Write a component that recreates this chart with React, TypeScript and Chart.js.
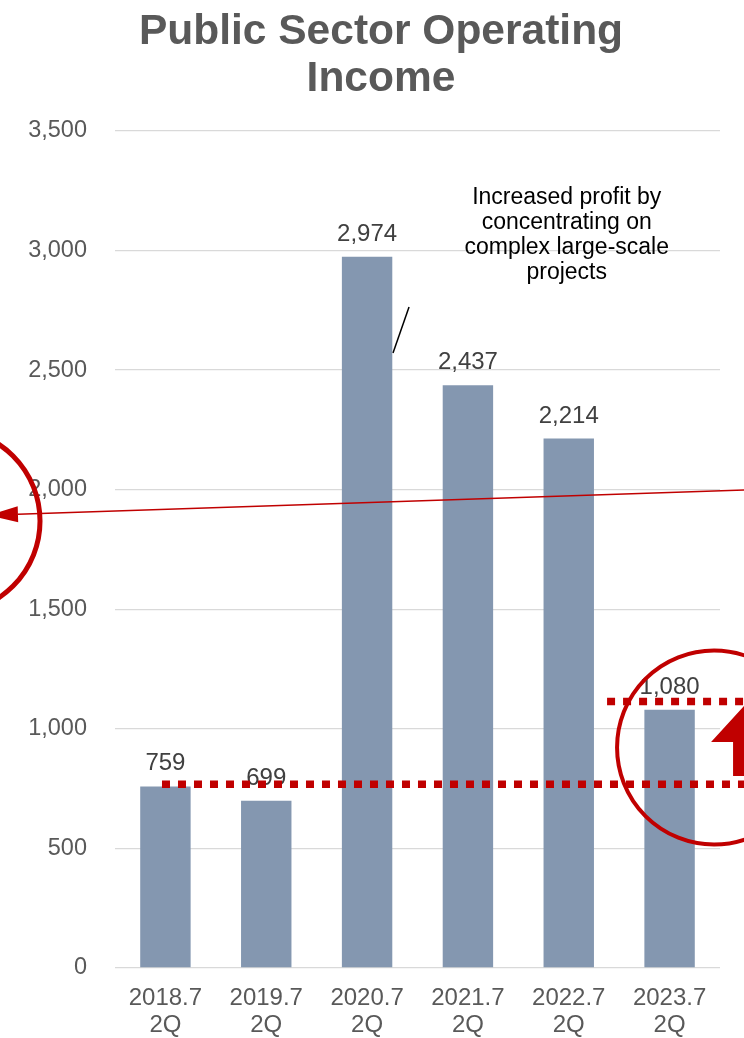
import React, { useEffect, useRef } from "react";
import { Chart, registerables } from "chart.js";

Chart.register(...registerables);

// ---------- data ----------
const categories: string[][] = [
  ["2018.7", "2Q"],
  ["2019.7", "2Q"],
  ["2020.7", "2Q"],
  ["2021.7", "2Q"],
  ["2022.7", "2Q"],
  ["2023.7", "2Q"],
];
const operatingIncome: number[] = [759, 699, 2974, 2437, 2214, 1080];
const yMin = 0;
const yMax = 3500;
const yStep = 500;
const titleLines: string[] = ["Public Sector Operating", "Income"];
const noteLines: string[] = [
  "Increased profit by",
  "concentrating on",
  "complex large-scale",
  "projects",
];

// annotation anchors in data space: [category position, value]
const noteAnchor: number[] = [3.98, 3193];
const connectorLine: number[][] = [
  [2.257, 2572],
  [2.416, 2764],
];
const trendLine: number[][] = [
  [5.9, 2001],
  [-1.76, 1893],
];
const leftCircle: number[] = [-2.156, 1869];
const rightCircle: number[] = [5.441, 922];
const lowerDotted: number[][] = [
  [-0.034, 768],
  [6.6, 768],
];
const upperDotted: number[][] = [
  [4.38, 1114],
  [6.6, 1114],
];
const upArrow: number[] = [5.818, 1133, 945, 803]; // x, tip, head base, tail

const FONT = "'Liberation Sans', Arial, Helvetica, sans-serif";
const RED = "#C00000";

export default function App() {
  const ref = useRef<HTMLCanvasElement | null>(null);

  useEffect(() => {
    document.body.style.margin = "0";
    document.body.style.overflow = "hidden";
    const canvas = ref.current;
    if (!canvas) return;

    const xPix = (chart: any, xi: number) => {
      const a = chart.chartArea;
      return a.left + ((xi + 0.5) * (a.right - a.left)) / categories.length;
    };
    const yPix = (chart: any, v: number) => chart.scales.y.getPixelForValue(v);

    const titlePlugin = {
      id: "customTitle",
      afterDraw(chart: any) {
        const ctx = chart.ctx;
        ctx.save();
        ctx.font = `bold 42.5px ${FONT}`;
        ctx.fillStyle = "#595959";
        ctx.textAlign = "center";
        ctx.textBaseline = "alphabetic";
        const cx = chart.width / 2 + 9;
        titleLines.forEach((line, i) => ctx.fillText(line, cx, 44 + i * 47));
        ctx.restore();
      },
    };

    const labelPlugin = {
      id: "barLabels",
      afterDatasetsDraw(chart: any) {
        const ctx = chart.ctx;
        const meta = chart.getDatasetMeta(0);
        ctx.save();
        ctx.font = `24px ${FONT}`;
        ctx.fillStyle = "#404040";
        ctx.textAlign = "center";
        ctx.textBaseline = "alphabetic";
        meta.data.forEach((bar: any, i: number) => {
          ctx.fillText(operatingIncome[i].toLocaleString("en-US"), bar.x, bar.y - 16);
        });
        ctx.restore();
      },
    };

    const annotationPlugin = {
      id: "annotations",
      afterDraw(chart: any) {
        const ctx = chart.ctx;
        ctx.save();

        // dotted reference lines
        ctx.strokeStyle = RED;
        ctx.lineWidth = 7.5;
        ctx.setLineDash([8, 8]);
        [lowerDotted, upperDotted].forEach((seg) => {
          ctx.beginPath();
          ctx.moveTo(xPix(chart, seg[0][0]), yPix(chart, seg[0][1]));
          ctx.lineTo(xPix(chart, seg[1][0]), yPix(chart, seg[1][1]));
          ctx.stroke();
        });
        ctx.setLineDash([]);

        // circles
        ctx.lineWidth = 5;
        ctx.beginPath();
        ctx.arc(xPix(chart, leftCircle[0]), yPix(chart, leftCircle[1]), 92, 0, Math.PI * 2);
        ctx.stroke();
        ctx.lineWidth = 4;
        ctx.beginPath();
        ctx.arc(xPix(chart, rightCircle[0]), yPix(chart, rightCircle[1]), 97, 0, Math.PI * 2);
        ctx.stroke();

        // trend line with arrowhead
        const x1 = xPix(chart, trendLine[0][0]);
        const y1 = yPix(chart, trendLine[0][1]);
        const x2 = xPix(chart, trendLine[1][0]);
        const y2 = yPix(chart, trendLine[1][1]);
        const len = Math.hypot(x2 - x1, y2 - y1);
        const ux = (x2 - x1) / len;
        const uy = (y2 - y1) / len;
        const headLen = 30;
        const headHalf = 8;
        ctx.lineWidth = 1.6;
        ctx.beginPath();
        ctx.moveTo(x1, y1);
        ctx.lineTo(x2 - ux * headLen, y2 - uy * headLen);
        ctx.stroke();
        ctx.fillStyle = RED;
        ctx.beginPath();
        ctx.moveTo(x2, y2);
        ctx.lineTo(x2 - ux * headLen - uy * headHalf, y2 - uy * headLen + ux * headHalf);
        ctx.lineTo(x2 - ux * headLen + uy * headHalf, y2 - uy * headLen - ux * headHalf);
        ctx.closePath();
        ctx.fill();

        // up arrow
        const ax = xPix(chart, upArrow[0]);
        const tipY = yPix(chart, upArrow[1]);
        const baseY = yPix(chart, upArrow[2]);
        const tailY = yPix(chart, upArrow[3]);
        ctx.beginPath();
        ctx.moveTo(ax, tipY);
        ctx.lineTo(ax + 41, baseY);
        ctx.lineTo(ax + 19, baseY);
        ctx.lineTo(ax + 19, tailY);
        ctx.lineTo(ax - 19, tailY);
        ctx.lineTo(ax - 19, baseY);
        ctx.lineTo(ax - 41, baseY);
        ctx.closePath();
        ctx.fill();

        // connector line
        ctx.strokeStyle = "#000000";
        ctx.lineWidth = 1.5;
        ctx.beginPath();
        ctx.moveTo(xPix(chart, connectorLine[0][0]), yPix(chart, connectorLine[0][1]));
        ctx.lineTo(xPix(chart, connectorLine[1][0]), yPix(chart, connectorLine[1][1]));
        ctx.stroke();

        // note text
        ctx.fillStyle = "#000000";
        ctx.font = `23px ${FONT}`;
        ctx.textAlign = "center";
        ctx.textBaseline = "alphabetic";
        const nx = xPix(chart, noteAnchor[0]);
        const ny = yPix(chart, noteAnchor[1]);
        noteLines.forEach((line, i) => ctx.fillText(line, nx, ny + i * 24.7));

        ctx.restore();
      },
    };

    const chart = new Chart(canvas, {
      type: "bar",
      data: {
        labels: categories,
        datasets: [
          {
            data: operatingIncome,
            backgroundColor: "#8497B0",
            borderWidth: 0,
            categoryPercentage: 0.5,
            barPercentage: 1.0,
          },
        ],
      },
      options: {
        responsive: false,
        animation: false,
        devicePixelRatio: 1,
        layout: { padding: { left: 0, right: 24, top: 131, bottom: 0 } },
        plugins: {
          legend: { display: false },
          tooltip: { enabled: false },
          title: { display: false },
        },
        scales: {
          x: {
            grid: { display: false, drawTicks: false },
            border: { display: false },
            ticks: {
              color: "#595959",
              font: { family: FONT, size: 24, lineHeight: 1.12 },
              padding: 17,
              maxRotation: 0,
              autoSkip: false,
            },
            afterFit: (scale: any) => {
              scale.height = 70;
            },
          },
          y: {
            min: yMin,
            max: yMax,
            grid: { color: "#D9D9D9", lineWidth: 1.3, drawTicks: false },
            border: { display: false },
            ticks: {
              stepSize: yStep,
              color: "#595959",
              font: { family: FONT, size: 23.5 },
              padding: 28,
              callback: (v: any) => Number(v).toLocaleString("en-US"),
            },
            afterFit: (scale: any) => {
              scale.width = 115;
            },
          },
        },
      },
      plugins: [labelPlugin, annotationPlugin, titlePlugin],
    });

    return () => chart.destroy();
  }, []);

  return (
    <div style={{ width: 744, height: 1038 }}>
      <canvas ref={ref} width={744} height={1038} style={{ display: "block", width: 744, height: 1038 }} />
    </div>
  );
}
